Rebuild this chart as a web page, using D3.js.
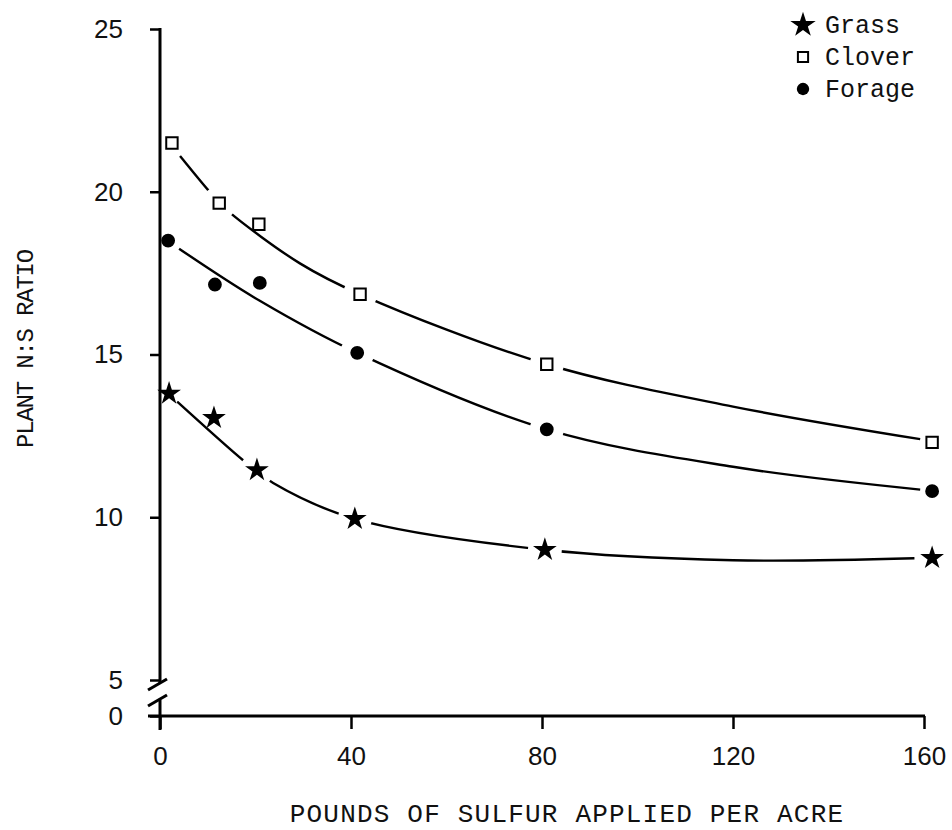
<!DOCTYPE html>
<html>
<head>
<meta charset="utf-8">
<script src="https://cdn.jsdelivr.net/npm/d3@7"></script>
<style>
  body { margin: 0; background: #fff; }
</style>
</head>
<body>
<div id="plot1"></div>
<script>
const xTicks = [0, 40, 80, 120, 160];
const yTicks = [0, 5, 10, 15, 20, 25];

const grassX = [1.9, 11.3, 20.3, 40.8, 80.6, 161.7];
const grassY = [13.8, 13.05, 11.45, 9.95, 9.0, 8.75];
const cloverX = [2.5, 12.4, 20.7, 41.9, 81.0, 161.7];
const cloverY = [21.5, 19.65, 19.0, 16.85, 14.7, 12.3];
const forageX = [1.7, 11.5, 20.9, 41.3, 81.0, 161.7];
const forageY = [18.5, 17.15, 17.2, 15.05, 12.7, 10.8];

// fitted curves
const grassFitX = [3.6, 17.4, 20.3, 23.7, 40.8, 80.6, 120, 158];
const grassFitY = [13.55, 11.75, 11.43, 11.05, 9.95, 9.0, 8.68, 8.74];
const cloverFitX = [4.2, 10.1, 12.4, 14.7, 29.3, 41.9, 81.0, 120, 159.2];
const cloverFitY = [21.1, 20.05, 19.68, 19.35, 17.8, 16.85, 14.7, 13.4, 12.4];
const forageFitX = [4.0, 20.9, 41.3, 81.0, 120, 159.2];
const forageFitY = [18.25, 16.65, 15.05, 12.7, 11.55, 10.85];

const seriesNames = ["Grass", "Clover", "Forage"];

const width = 952;
const height = 830;

const x = d3.scaleLinear()
	.domain([0, 160])
	.range([160, 924]);

// broken axis: 0 sits just under 5
const y = d3.scaleLinear()
	.domain([0, 5, 25])
	.range([716, 680, 29]);

const tickFont = "'Liberation Sans', Arial, sans-serif";
const typeFont = "'Courier New', 'Liberation Mono', monospace";

const symbols = {
	Grass: {type: d3.symbolStar, size: 175, fill: "#000", stroke: "none"},
	Clover: {type: d3.symbolSquare, size: 130, fill: "#fff", stroke: "#000"},
	Forage: {type: d3.symbolCircle, size: 150, fill: "#000", stroke: "none"}
};

const series = [
	{name: "Grass", pts: d3.zip(grassX, grassY), fit: d3.zip(grassFitX, grassFitY)},
	{name: "Clover", pts: d3.zip(cloverX, cloverY), fit: d3.zip(cloverFitX, cloverFitY)},
	{name: "Forage", pts: d3.zip(forageX, forageY), fit: d3.zip(forageFitX, forageFitY)}
];

function chart() {
	const svg = d3.create("svg")
		.attr("width", width)
		.attr("height", height)
		.attr("viewBox", [0, 0, width, height]);

	// y axis
	const yAxis = svg.append("g")
		.attr("transform", `translate(${x(0)},0)`)
		.call(d3.axisLeft(y).tickValues(yTicks).tickSize(10).tickPadding(27));
	yAxis.select(".domain").remove();
	yAxis.selectAll(".tick line").attr("stroke", "#000").attr("stroke-width", 2.5);
	yAxis.selectAll(".tick text")
		.attr("fill", "#111")
		.style("font-family", tickFont)
		.style("font-size", "26px");

	// axis line with the break between 0 and 5
	const ax = svg.append("g").attr("stroke", "#000").attr("stroke-width", 3).attr("fill", "none");
	ax.append("line").attr("x1", x(0)).attr("x2", x(0)).attr("y1", y(25) - 1).attr("y2", y(5) + 3);
	ax.append("line").attr("x1", x(0) - 12).attr("x2", x(0) + 7).attr("y1", y(5) + 10).attr("y2", y(5) - 1);
	ax.append("line").attr("x1", x(0) - 12).attr("x2", x(0) + 7).attr("y1", y(0) - 10).attr("y2", y(0) - 21);
	ax.append("line").attr("x1", x(0)).attr("x2", x(0)).attr("y1", y(0) - 16).attr("y2", y(0) + 14);

	// x axis
	const xAxis = svg.append("g")
		.attr("transform", `translate(0,${y(0)})`)
		.call(d3.axisBottom(x).tickValues(xTicks).tickSize(13).tickPadding(18));
	xAxis.select(".domain").remove();
	xAxis.selectAll(".tick line").attr("stroke", "#000").attr("stroke-width", 2.5);
	xAxis.selectAll(".tick text")
		.attr("fill", "#111")
		.style("font-family", tickFont)
		.style("font-size", "26px");
	ax.append("line").attr("x1", x(0) - 12).attr("x2", x(160) + 1).attr("y1", y(0)).attr("y2", y(0));

	// fitted curves
	const line = d3.line((d) => x(d[0]), (d) => y(d[1])).curve(d3.curveCatmullRom.alpha(0.5));
	series.forEach((s) => {
		svg.append("path")
			.attr("d", line(s.fit))
			.attr("fill", "none")
			.attr("stroke", "#000")
			.attr("stroke-width", 2.4);
	});

	// white gaps where a curve runs through a marker
	const halos = svg.append("g");
	const marks = svg.append("g");
	series.forEach((s) => {
		s.pts.forEach((d) => {
			const px = x(d[0]), py = y(d[1]);
			const dist = d3.min(s.fit, (f) => Math.hypot(x(f[0]) - px, y(f[1]) - py));
			if (dist < 6) {
				halos.append("circle")
					.attr("cx", px)
					.attr("cy", py)
					.attr("r", 17)
					.attr("fill", "#ffffff")
					.attr("stroke", "none");
			}
		});
		const sym = symbols[s.name];
		marks.selectAll(null)
			.data(s.pts)
			.join("path")
			.attr("transform", (d) => `translate(${x(d[0])},${y(d[1])})`)
			.attr("d", d3.symbol(sym.type, sym.size))
			.attr("fill", sym.fill)
			.attr("stroke", sym.stroke)
			.attr("stroke-width", 2);
	});

	// legend
	const legend = svg.append("g").attr("transform", "translate(803,25)");
	seriesNames.forEach((name, i) => {
		const sym = symbols[name];
		const row = legend.append("g").attr("transform", `translate(0,${i * 32})`);
		row.append("path")
			.attr("d", d3.symbol(sym.type, name === "Grass" ? 200 : sym.size * 0.8))
			.attr("fill", sym.fill)
			.attr("stroke", sym.stroke)
			.attr("stroke-width", 2);
		row.append("text")
			.attr("x", 22)
			.attr("y", 8)
			.text(name)
			.style("font-family", typeFont)
			.style("font-size", "25px")
			.style("letter-spacing", "0px")
			.attr("fill", "#111");
	});

	// axis titles
	svg.append("text")
		.attr("x", 567)
		.attr("y", 822)
		.attr("text-anchor", "middle")
		.text("POUNDS OF SULFUR APPLIED PER ACRE")
		.style("font-family", typeFont)
		.style("font-size", "26px")
		.style("letter-spacing", "1.2px")
		.attr("fill", "#111");

	svg.append("text")
		.attr("transform", "translate(33,349) rotate(-90)")
		.attr("text-anchor", "middle")
		.text("PLANT N:S RATIO")
		.style("font-family", typeFont)
		.style("font-size", "24px")
		.style("letter-spacing", "-1.2px")
		.attr("fill", "#111");

	return svg.node();
}

document.querySelector("#plot1").append(chart());
</script>
</body>
</html>
